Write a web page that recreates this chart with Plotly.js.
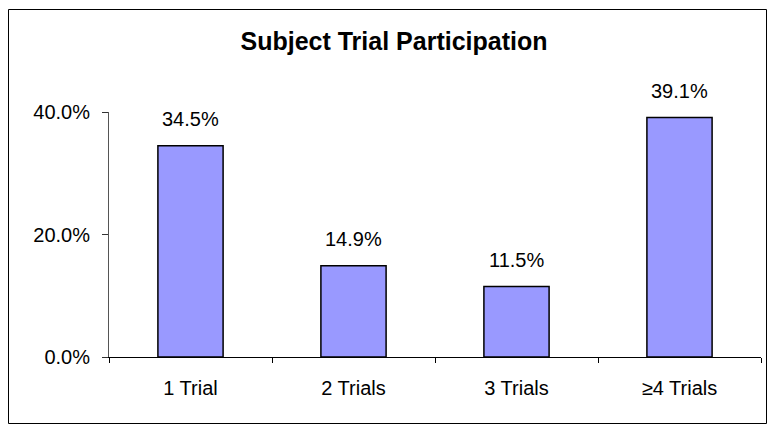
<!DOCTYPE html>
<html>
<head>
<meta charset="utf-8">
<script src="https://cdn.plot.ly/plotly-3.0.1.min.js"></script>
<style>html,body{margin:0;padding:0;background:#fff;}#chart{width:767px;height:424px;}</style>
</head>
<body>
<div id="chart"></div>
<script>
// Data
var categories = ["1 Trial", "2 Trials", "3 Trials", "\u22654 Trials"];
var shares = [0.345, 0.149, 0.115, 0.391];
var yTickVals = [0, 0.2, 0.4];
var chartTitle = "Subject Trial Participation";

var W = 767, H = 424;
var M = {l: 109, r: 6, t: 112, b: 67};
var pw = W - M.l - M.r, ph = H - M.t - M.b;
function px2x(p){ return (p - M.l) / pw; }
function px2y(p){ return (H - M.b - p) / ph; }

var font = "Liberation Sans, Arial, sans-serif";

var trace = {
  type: "bar",
  x: categories,
  y: shares,
  marker: {color: "#9999FF", line: {color: "#000000", width: 1.5}},
  hoverinfo: "none"
};

var annotations = categories.map(function(c, i){
  return {
    x: c, y: shares[i], xref: "x", yref: "y",
    text: (shares[i] * 100).toFixed(1) + "%",
    showarrow: false, yanchor: "bottom", xanchor: "center",
    yshift: 14,
    font: {family: font, size: 20, color: "#000"}
  };
});

var layout = {
  width: W, height: H,
  margin: M,
  paper_bgcolor: "#fff", plot_bgcolor: "#fff",
  showlegend: false,
  bargap: 0.6,
  title: {
    text: "<b>" + chartTitle + "</b>",
    font: {family: font, size: 25, color: "#000"},
    xref: "container", yref: "container",
    x: 394 / W, xanchor: "center",
    y: 1 - 41 / H, yanchor: "middle"
  },
  xaxis: {
    type: "category",
    range: [-0.5, 3.5],
    showline: true, linecolor: "#000", linewidth: 1,
    ticks: "outside", tickson: "boundaries", ticklen: 5, tickcolor: "#000",
    showgrid: false, zeroline: false,
    tickfont: {family: font, size: 20, color: "#000"},
    ticklabelstandoff: 13
  },
  yaxis: {
    range: [0, 0.4],
    tickvals: yTickVals,
    tickformat: ".1%",
    showline: true, linecolor: "#555", linewidth: 1,
    ticks: "outside", ticklen: 6, tickcolor: "#333",
    showgrid: false, zeroline: false,
    tickfont: {family: font, size: 20, color: "#000"},
    ticklabelstandoff: 8
  },
  annotations: annotations,
  shapes: [{
    type: "rect", xref: "paper", yref: "paper",
    x0: px2x(8.5), x1: px2x(766.5), y0: px2y(423.5), y1: px2y(9.5),
    line: {color: "#000", width: 1}, fillcolor: "rgba(0,0,0,0)", layer: "below"
  }]
};

Plotly.newPlot("chart", [trace], layout, {displayModeBar: false, staticPlot: true});
</script>
</body>
</html>
